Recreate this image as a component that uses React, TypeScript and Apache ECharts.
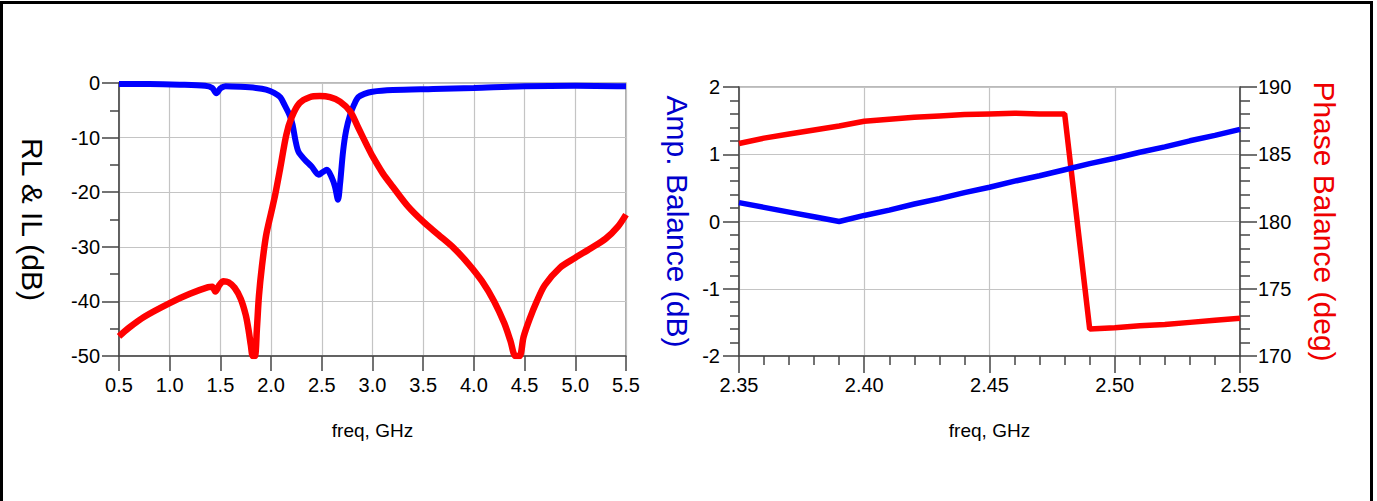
import React, { useEffect, useRef } from "react";
import * as echarts from "echarts";

// ---------- Chart 1 : RL & IL (dB) vs freq (GHz) ----------
const ilFreq = [0.5, 0.8, 1.1, 1.35, 1.42, 1.46, 1.5, 1.55, 1.7, 1.85, 1.95, 2.03, 2.09, 2.14, 2.18, 2.21, 2.24, 2.27, 2.33, 2.4, 2.47, 2.51, 2.55, 2.6, 2.63, 2.66, 2.68, 2.71, 2.74, 2.78, 2.82, 2.86, 2.92, 3.0, 3.2, 3.6, 4.0, 4.5, 5.0, 5.5];
const ilValues = [-0.2, -0.2, -0.3, -0.5, -0.9, -1.9, -1.0, -0.6, -0.7, -0.9, -1.2, -1.8, -2.6, -4.3, -5.8, -7.5, -10.5, -12.6, -14.0, -15.3, -16.8, -16.3, -15.9, -17.4, -19.0, -21.4, -18.5, -12.5, -8.7, -5.8, -3.9, -2.6, -2.0, -1.6, -1.3, -1.1, -0.9, -0.6, -0.5, -0.6];

const rlFreq = [0.5, 0.6, 0.75, 1.0, 1.2, 1.38, 1.42, 1.45, 1.49, 1.53, 1.58, 1.64, 1.7, 1.75, 1.78, 1.8, 1.82, 1.84, 1.86, 1.88, 1.91, 1.95, 2.0, 2.04, 2.09, 2.15, 2.2, 2.28, 2.38, 2.48, 2.58, 2.68, 2.78, 2.86, 2.95, 3.0, 3.1, 3.2, 3.35, 3.5, 3.65, 3.8, 3.95, 4.08, 4.2, 4.3, 4.36, 4.41, 4.45, 4.49, 4.55, 4.62, 4.7, 4.85, 5.0, 5.15, 5.3, 5.42, 5.5];
const rlValues = [-46.4, -44.8, -42.8, -40.3, -38.6, -37.4, -37.3, -38.2, -37.0, -36.3, -36.5, -37.5, -39.5, -42.5, -45.5, -48, -50, -50, -45, -39, -33.5, -28, -23.8, -20.5, -15.6, -9.5, -6.4, -3.7, -2.6, -2.4, -2.6, -3.4, -5.2, -8.2, -11.6, -13.4, -16.5, -19.0, -22.6, -25.4, -27.8, -30.2, -33.2, -36.3, -40.0, -44.0, -47.2, -50, -50, -46.5, -43.2, -40.0, -37.0, -33.8, -32.0, -30.3, -28.5, -26.3, -24.1];

// ---------- Chart 2 : Amp / Phase balance vs freq (GHz) ----------
const balFreq = [2.35, 2.36, 2.37, 2.38, 2.39, 2.4, 2.41, 2.42, 2.43, 2.44, 2.45, 2.46, 2.47, 2.48, 2.49, 2.5, 2.51, 2.52, 2.53, 2.54, 2.55];
const ampBalance = [0.28, 0.21, 0.14, 0.07, 0.0, 0.09, 0.17, 0.26, 0.34, 0.43, 0.51, 0.6, 0.68, 0.77, 0.86, 0.94, 1.03, 1.11, 1.2, 1.28, 1.37];
const phaseBalance = [185.8, 186.2, 186.5, 186.8, 187.1, 187.45, 187.6, 187.75, 187.85, 187.95, 188.0, 188.05, 188.0, 188.0, 172.0, 172.1, 172.25, 172.35, 172.5, 172.65, 172.8];

const chart1XTicks = ["0.5", "1.0", "1.5", "2.0", "2.5", "3.0", "3.5", "4.0", "4.5", "5.0", "5.5"];
const chart2XTicks = ["2.35", "2.40", "2.45", "2.50", "2.55"];

const FONT = "Liberation Sans, Arial, sans-serif";
const BLUE = "#0000ff";
const RED = "#ff0000";

const zip = (xs: number[], ys: number[]) => xs.map((x, i) => [x, ys[i]]);

export default function App() {
  const ref = useRef<HTMLDivElement>(null);

  useEffect(() => {
    document.body.style.margin = "0";
    const chart = echarts.init(ref.current!, null, { renderer: "svg" });

    const labelStyle = { color: "#000", fontSize: 20, fontFamily: FONT };
    const gridLine = { show: true, lineStyle: { color: "#c4c4c4", width: 1.2 } };
    const axisLine = { show: true, onZero: false, lineStyle: { color: "#444", width: 1.5 } };

    const option: any = {
      animation: false,
      backgroundColor: "#fff",
      textStyle: { fontFamily: FONT },
      grid: [
        { left: 119, top: 83, width: 507, height: 273, show: true, borderColor: "#777", borderWidth: 1.2, backgroundColor: "transparent" },
        { left: 739, top: 87, width: 501, height: 269, show: true, borderColor: "#777", borderWidth: 1.2, backgroundColor: "transparent" },
      ],
      xAxis: [
        {
          type: "value", gridIndex: 0, min: 0.5, max: 5.5, interval: 0.5, position: "bottom",
          name: "freq, GHz", nameLocation: "middle", nameGap: 65,
          nameTextStyle: { color: "#000", fontSize: 19, fontFamily: FONT },
          axisLine, axisTick: { show: true, length: 15, lineStyle: { color: "#444", width: 1.5 } },
          axisLabel: { ...labelStyle, margin: 19, formatter: (v: number) => chart1XTicks[Math.round((v - 0.5) / 0.5)] ?? "" },
          splitLine: gridLine,
        },
        {
          type: "value", gridIndex: 1, min: 2.35, max: 2.55, interval: 0.05, position: "bottom",
          name: "freq, GHz", nameLocation: "middle", nameGap: 65,
          nameTextStyle: { color: "#000", fontSize: 19, fontFamily: FONT },
          axisLine, axisTick: { show: true, length: 17, lineStyle: { color: "#444", width: 1.5 } },
          minorTick: { show: true, splitNumber: 5, length: 9, lineStyle: { color: "#444", width: 1.5 } },
          axisLabel: { ...labelStyle, margin: 19, formatter: (v: number) => chart2XTicks[Math.round((v - 2.35) / 0.05)] ?? "" },
          splitLine: gridLine,
        },
      ],
      yAxis: [
        {
          type: "value", gridIndex: 0, min: -50, max: 0, interval: 10,
          name: "RL & IL (dB)", nameLocation: "middle", nameRotate: -90, nameGap: 72,
          nameTextStyle: { color: "#000", fontSize: 30, fontFamily: FONT },
          axisLine, axisTick: { show: true, length: 17, lineStyle: { color: "#444", width: 1.5 } },
          minorTick: { show: true, splitNumber: 2, length: 9, lineStyle: { color: "#444", width: 1.5 } },
          axisLabel: { ...labelStyle, margin: 19 },
          splitLine: gridLine,
        },
        {
          type: "value", gridIndex: 1, min: -2, max: 2, interval: 1,
          name: "Amp. Balance (dB)", nameLocation: "middle", nameRotate: -90, nameGap: 47,
          nameTextStyle: { color: "#0000cc", fontSize: 30, fontFamily: FONT },
          axisLine, axisTick: { show: true, length: 16, lineStyle: { color: "#444", width: 1.5 } },
          minorTick: { show: true, splitNumber: 5, length: 9, lineStyle: { color: "#444", width: 1.5 } },
          axisLabel: { ...labelStyle, margin: 19 },
          splitLine: gridLine,
        },
        {
          type: "value", gridIndex: 1, position: "right", min: 170, max: 190, interval: 5,
          name: "Phase Balance (deg)", nameLocation: "middle", nameRotate: -90, nameGap: 69,
          nameTextStyle: { color: "#ee0000", fontSize: 30, fontFamily: FONT },
          axisLine, axisTick: { show: true, length: 17, lineStyle: { color: "#444", width: 1.5 } },
          minorTick: { show: true, splitNumber: 5, length: 10, lineStyle: { color: "#444", width: 1.5 } },
          axisLabel: { ...labelStyle, margin: 18 },
          splitLine: { show: false },
        },
      ],
      series: [
        { name: "IL", type: "line", xAxisIndex: 0, yAxisIndex: 0, data: zip(ilFreq, ilValues), smooth: 0.3, showSymbol: false, lineStyle: { color: BLUE, width: 6 }, z: 3 },
        { name: "RL", type: "line", xAxisIndex: 0, yAxisIndex: 0, data: zip(rlFreq, rlValues), smooth: 0.3, showSymbol: false, lineStyle: { color: RED, width: 6.5 }, z: 4 },
        { name: "Phase Balance", type: "line", xAxisIndex: 1, yAxisIndex: 2, data: zip(balFreq, phaseBalance), showSymbol: false, lineStyle: { color: RED, width: 5.5 }, z: 3 },
        { name: "Amp. Balance", type: "line", xAxisIndex: 1, yAxisIndex: 1, data: zip(balFreq, ampBalance), showSymbol: false, lineStyle: { color: BLUE, width: 5.5 }, z: 4 },
      ],
      graphic: [
        { type: "rect", silent: true, shape: { x: 1.5, y: 2.5, width: 1370, height: 500 }, style: { fill: "none", stroke: "#000", lineWidth: 3 } },
      ],
    };

    chart.setOption(option);
    return () => chart.dispose();
  }, []);

  return <div ref={ref} style={{ position: "absolute", left: 0, top: 0, width: 1377, height: 501 }} />;
}
